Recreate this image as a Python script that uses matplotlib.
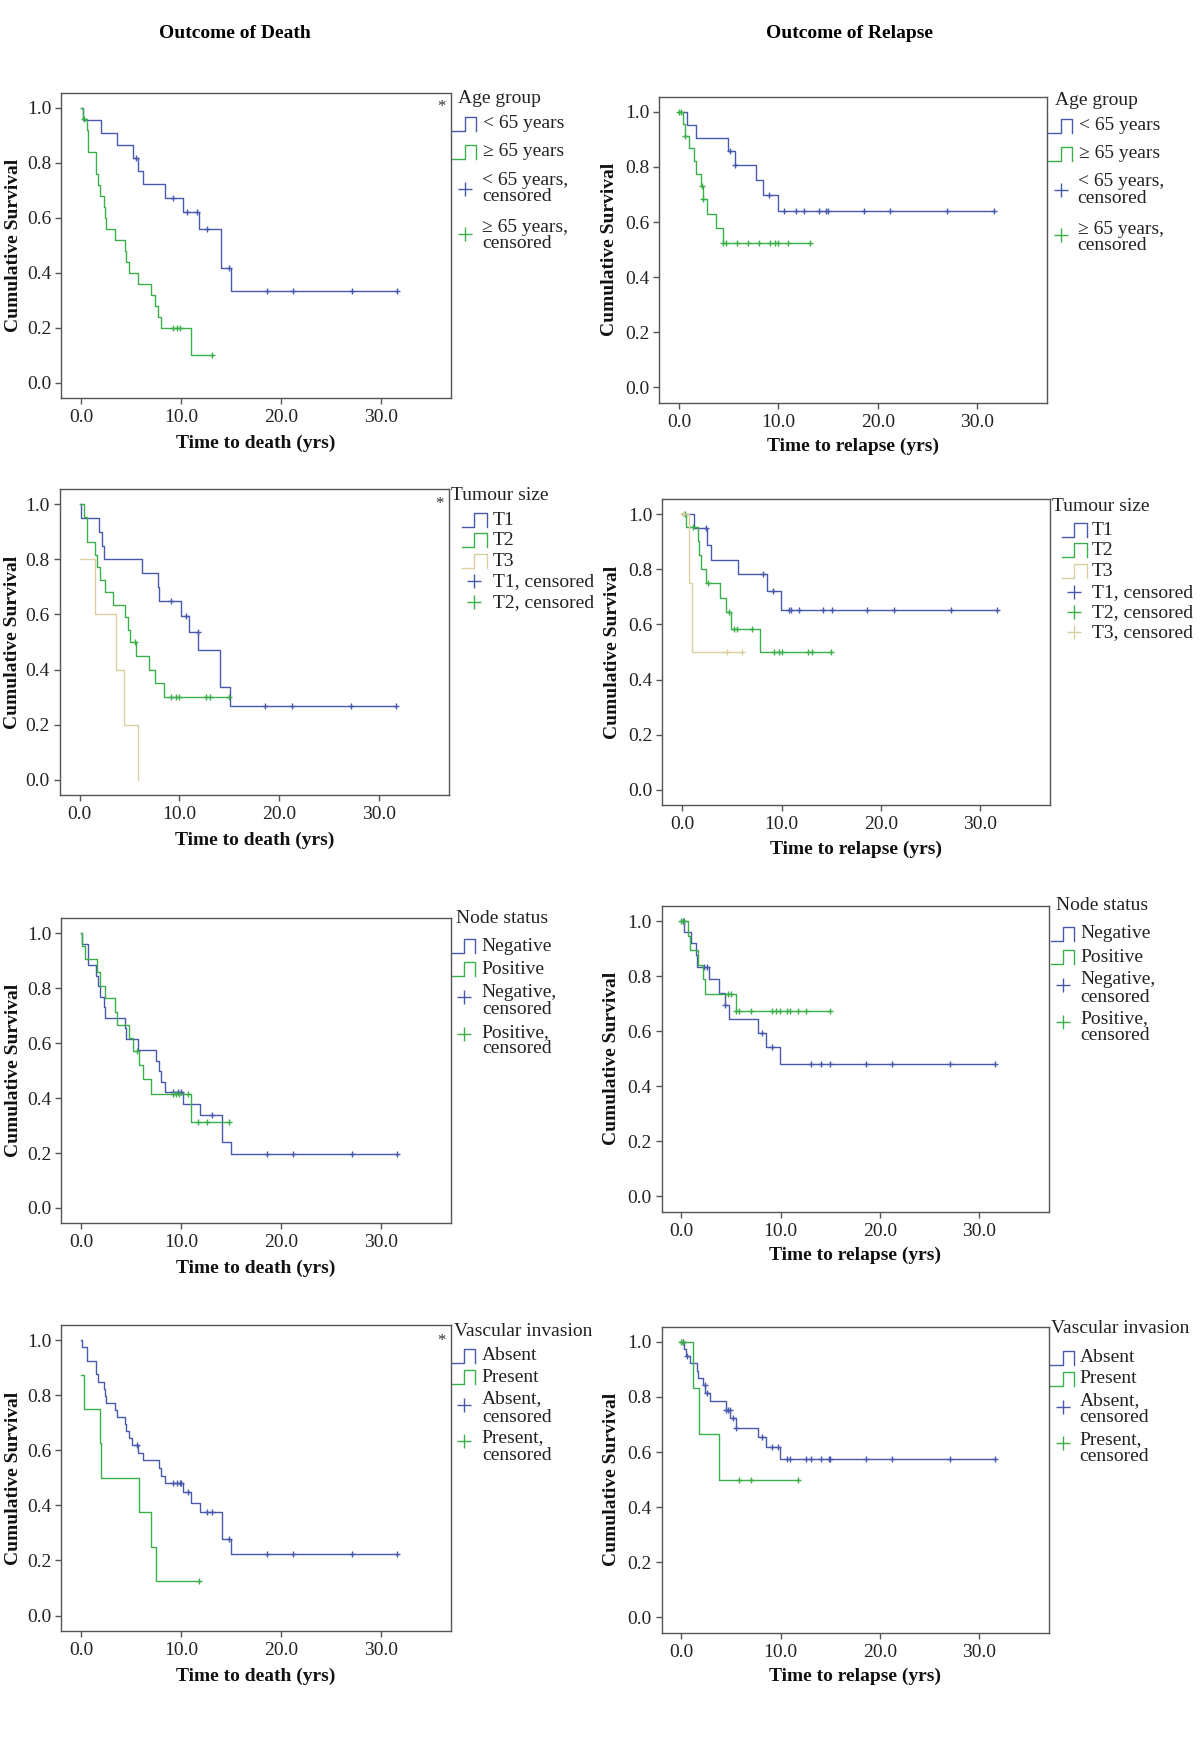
import numpy as np
import matplotlib
matplotlib.use('Agg')
import matplotlib.pyplot as plt

plt.rcParams['font.family'] = ['Liberation Serif', 'DejaVu Serif']

BLUE = '#4759ad'
GREEN = '#3daf4a'
TAN = '#d9cf9f'

# ---------------- data ----------------
col_titles = ["Outcome of Death", "Outcome of Relapse"]
x_labels = ["Time to death (yrs)", "Time to relapse (yrs)"]
x_ticks = [0, 10, 20, 30]
y_ticks = [0.0, 0.2, 0.4, 0.6, 0.8, 1.0]

# Panel 1: death, age group
d_age_lt65_t = [0.15, 2.0, 3.6, 5.15, 5.65, 6.15, 8.4, 10.2, 11.85, 14.05, 15.0]
d_age_lt65_s = [0.955, 0.909, 0.864, 0.818, 0.770, 0.721, 0.673, 0.620, 0.559, 0.418, 0.335]
d_age_lt65_c = [5.5, 9.15, 10.6, 11.65, 12.6, 14.8, 18.6, 21.2, 27.1, 31.65]
d_age_ge65_t = [0.15, 0.6, 0.65, 1.5, 1.73, 1.88, 2.27, 2.38, 2.54, 3.35, 4.38, 4.5, 4.77,
                5.73, 7.0, 7.38, 7.69, 7.96, 11.0]
d_age_ge65_s = [0.96, 0.92, 0.84, 0.76, 0.72, 0.68, 0.64, 0.60, 0.56, 0.52, 0.48, 0.44, 0.40,
                0.36, 0.32, 0.28, 0.24, 0.20, 0.10]
d_age_ge65_c = [0.25, 9.15, 9.6, 9.9, 13.15]

# Panel 2: relapse, age group
r_age_lt65_t = [0.8, 1.7, 4.9, 5.6, 7.75, 8.5, 9.95]
r_age_lt65_s = [0.953, 0.905, 0.858, 0.807, 0.754, 0.698, 0.641]
r_age_lt65_c = [5.1, 5.6, 9.1, 10.6, 11.75, 12.55, 14.1, 14.8, 14.95, 18.6, 21.2, 27.0, 31.65]
r_age_ge65_t = [0.45, 0.6, 1.05, 1.5, 1.7, 2.2, 2.4, 2.8, 3.7, 4.45]
r_age_ge65_s = [0.956, 0.912, 0.867, 0.820, 0.776, 0.730, 0.685, 0.628, 0.578, 0.525]
r_age_ge65_c = [0.0, 0.25, 0.65, 2.3, 2.45, 4.45, 4.75, 5.8, 6.95, 8.05, 9.2, 9.7, 10.0, 11.0, 13.15]

# Panel 3: death, tumour size
d_t1_t = [0.1, 1.9, 2.25, 2.4, 6.3, 7.85, 8.0, 10.2, 11.0, 11.9, 14.1, 15.1]
d_t1_s = [0.95, 0.90, 0.85, 0.80, 0.75, 0.70, 0.65, 0.595, 0.536, 0.47, 0.337, 0.268]
d_t1_c = [9.2, 10.7, 11.85, 18.6, 21.3, 27.2, 31.7]
d_t2_t = [0.4, 0.7, 1.55, 1.75, 2.0, 2.55, 3.3, 4.55, 4.85, 5.1, 5.7, 7.0, 7.55, 8.5]
d_t2_s = [0.955, 0.864, 0.818, 0.773, 0.727, 0.682, 0.636, 0.591, 0.545, 0.50, 0.45, 0.40, 0.35, 0.30]
d_t2_c = [5.6, 9.2, 9.65, 9.95, 12.65, 13.1, 15.0]
d_t3_start = 0.8
d_t3_t = [1.55, 3.65, 4.45, 5.9]
d_t3_s = [0.60, 0.40, 0.20, 0.0]
d_t3_c = []

# Panel 4: relapse, tumour size
r_t1_t = [1.15, 2.45, 2.95, 5.6, 8.5, 9.95]
r_t1_s = [0.95, 0.89, 0.836, 0.782, 0.72, 0.654]
r_t1_c = [2.4, 8.15, 9.15, 10.75, 11.0, 11.8, 14.15, 15.05, 18.6, 21.3, 27.1, 31.65]
r_t2_t = [0.4, 1.6, 1.7, 1.85, 2.35, 3.8, 4.45, 4.95, 7.8]
r_t2_s = [0.955, 0.905, 0.853, 0.801, 0.752, 0.698, 0.647, 0.585, 0.50]
r_t2_c = [0.25, 1.1, 2.55, 4.7, 5.2, 5.55, 7.0, 9.2, 9.75, 10.0, 12.65, 13.1, 14.95]
r_t3_t = [0.65, 1.0]
r_t3_s = [0.75, 0.50]
r_t3_c = [0.1, 4.5, 6.0]

# Panel 5: death, node status
d_neg_t = [0.1, 0.65, 1.5, 1.7, 1.9, 2.25, 2.4, 4.4, 4.5, 5.65, 7.45, 7.75, 8.0, 8.35, 10.2,
           11.85, 14.05, 15.0]
d_neg_s = [0.962, 0.885, 0.846, 0.807, 0.768, 0.731, 0.692, 0.654, 0.615, 0.576, 0.537, 0.498,
           0.459, 0.422, 0.379, 0.338, 0.241, 0.195]
d_neg_c = [9.2, 9.7, 9.95, 13.05, 18.6, 21.2, 27.1, 31.65]
d_pos_t = [0.05, 0.35, 1.6, 1.9, 2.4, 3.35, 3.6, 4.8, 5.2, 5.75, 6.2, 7.0, 10.95]
d_pos_s = [0.955, 0.905, 0.859, 0.81, 0.764, 0.714, 0.665, 0.618, 0.571, 0.522, 0.468, 0.416, 0.312]
d_pos_c = [5.6, 9.2, 9.5, 9.75, 10.65, 11.7, 12.6, 14.8]

# Panel 6: relapse, node status
r_neg_t = [0.3, 0.95, 1.5, 1.6, 2.75, 3.8, 4.4, 4.85, 7.75, 8.55, 9.95]
r_neg_s = [0.96, 0.919, 0.877, 0.835, 0.789, 0.739, 0.695, 0.646, 0.595, 0.543, 0.481]
r_neg_c = [0.2, 2.3, 2.55, 4.4, 8.1, 9.1, 13.1, 14.1, 15.0, 18.6, 21.25, 27.1, 31.6]
r_pos_t = [0.7, 0.9, 1.7, 2.2, 2.4, 5.55]
r_pos_s = [0.945, 0.895, 0.84, 0.789, 0.736, 0.675]
r_pos_c = [0.0, 0.25, 4.75, 5.05, 5.55, 5.8, 7.0, 9.15, 9.55, 9.9, 10.6, 10.9, 11.8, 12.55, 15.0]

# Panel 7: death, vascular invasion
d_abs_t = [0.1, 0.6, 1.5, 1.7, 2.25, 2.4, 2.5, 3.35, 3.6, 4.4, 4.5, 4.75, 5.1, 5.65, 6.2, 7.75,
           8.0, 8.35, 10.2, 10.95, 11.85, 14.05, 15.0]
d_abs_s = [0.976, 0.925, 0.876, 0.849, 0.824, 0.797, 0.773, 0.747, 0.722, 0.696, 0.670, 0.645,
           0.62, 0.589, 0.564, 0.537, 0.508, 0.482, 0.449, 0.41, 0.375, 0.279, 0.224]
d_abs_c = [5.6, 9.2, 9.6, 9.85, 10.0, 10.65, 12.6, 13.05, 14.8, 18.6, 21.2, 27.1, 31.65]
d_pres_start = 0.875
d_pres_t = [0.25, 1.9, 2.0, 5.75, 7.0, 7.45]
d_pres_s = [0.75, 0.625, 0.50, 0.375, 0.25, 0.125]
d_pres_c = [11.75]

# Panel 8: relapse, vascular invasion
r_abs_t = [0.3, 0.5, 0.9, 1.55, 1.7, 2.2, 2.4, 2.85, 4.45, 4.95, 5.55, 7.75, 8.55, 9.95]
r_abs_s = [0.975, 0.949, 0.922, 0.895, 0.867, 0.842, 0.813, 0.784, 0.754, 0.725, 0.689, 0.656,
           0.619, 0.575]
r_abs_c = [0.15, 0.6, 2.35, 2.6, 4.45, 4.75, 4.9, 5.25, 5.55, 8.1, 9.1, 9.7, 10.6, 10.9, 12.55,
           13.1, 14.1, 14.9, 15.0, 18.6, 21.25, 27.1, 31.6]
r_pres_t = [1.15, 1.75, 3.75]
r_pres_s = [0.833, 0.667, 0.50]
r_pres_c = [0.0, 0.2, 5.8, 7.0, 11.8]

# ---------------- drawing ----------------
FW, FH = 1200, 1754
FS = 14
fig = plt.figure(figsize=(FW / 100, FH / 100), dpi=100)


def km(ax, t, s, c, color, start=1.0):
    t = np.asarray(t, float)
    s = np.asarray(s, float)
    c = np.asarray(c, float)
    xs = np.concatenate([[0.0], t])
    ys = np.concatenate([[start], s])
    end = max(xs[-1], c.max() if c.size else 0.0)
    if end > xs[-1]:
        xs = np.append(xs, end)
        ys = np.append(ys, ys[-1])
    ax.step(xs, ys, where='post', color=color, lw=1.0)
    if c.size:
        idx = np.searchsorted(xs, c, side='right') - 1
        ax.plot(c, ys[idx], ls='none', marker='+', ms=5, mew=1.0, color=color)


def make_ax(px_left, px_top, px_right, px_bottom, xlabel, xl_off, yl_off):
    rect = [px_left / FW, 1 - px_bottom / FH, (px_right - px_left) / FW, (px_bottom - px_top) / FH]
    ax = fig.add_axes(rect)
    W = px_right - px_left
    H = px_bottom - px_top
    ax.set_xlim(-2.0, 37.0)
    ax.set_ylim(-0.056, 1.055)
    ax.set_xticks(x_ticks)
    ax.set_xticklabels([f"{v:.1f}" for v in x_ticks])
    ax.set_yticks(y_ticks)
    ax.set_yticklabels([f"{v:.1f}" for v in y_ticks])
    for sp in ax.spines.values():
        sp.set_color('#555555')
        sp.set_linewidth(1.0)
    ax.tick_params(direction='out', length=4, width=1, color='#555555',
                   labelsize=FS, labelcolor='#222222')
    ax.tick_params(axis='y', pad=3)
    ax.tick_params(axis='x', pad=4)
    ax.set_xlabel(xlabel, fontsize=FS, fontweight='bold', color='#111111')
    ax.set_ylabel("Cumulative Survival", fontsize=FS, fontweight='bold', color='#111111')
    ax.xaxis.set_label_coords(0.5, -xl_off / H)
    ax.xaxis.label.set_va('center')
    ax.yaxis.set_label_coords(-yl_off / W, 0.5)
    ax.yaxis.label.set_va('center')
    ax.yaxis.label.set_ha('center')
    return ax, W, H


def legend(ax, W, H, title, title_off, entries, icon_x, text_x, cens, star=None):
    def P(dx, dy):
        return (1 + dx / W, 1 - dy / H)
    kw = dict(transform=ax.transAxes, clip_on=False)
    tx, ty = P(*title_off)
    ax.text(tx, ty, title, fontsize=FS, color='#222222', ha='left', va='center', **kw)
    x0, xm, x1 = icon_x
    for lab, colr, dy in entries:
        xs = [x0, xm, xm, x1, x1]
        ys = [dy + 7, dy + 7, dy - 7, dy - 7, dy + 7]
        pts = [P(a, b) for a, b in zip(xs, ys)]
        ax.plot([p[0] for p in pts], [p[1] for p in pts], color=colr, lw=1.0, **kw)
        lx, ly = P(text_x, dy)
        ax.text(lx, ly, lab, fontsize=FS, color='#222222', ha='left', va='center', **kw)
    for lines, colr, px, pdy, ldys, ltx in cens:
        mx, my = P(px, pdy)
        ax.plot([mx], [my], marker='+', ms=10, mew=1.0, color=colr, ls='none', **kw)
        for ln, ldy in zip(lines, ldys):
            lx, ly = P(ltx, ldy)
            ax.text(lx, ly, ln, fontsize=FS, color='#222222', ha='left', va='center', **kw)
    if star is not None:
        sx, sy = P(*star)
        ax.text(sx, sy, '*', fontsize=12, color='#333333', ha='center', va='center', **kw)


# column titles
fig.text(235 / FW, 1 - 34 / FH, col_titles[0], fontsize=FS, fontweight='bold', ha='center', va='center')
fig.text(850 / FW, 1 - 34 / FH, col_titles[1], fontsize=FS, fontweight='bold', ha='center', va='center')

# Panel 1
ax, W, H = make_ax(61.1, 92.7, 450.8, 398, x_labels[0], 45, 47.5)
km(ax, d_age_lt65_t, d_age_lt65_s, d_age_lt65_c, BLUE)
km(ax, d_age_ge65_t, d_age_ge65_s, d_age_ge65_c, GREEN)
legend(ax, W, H, "Age group", (7, 6),
       [("< 65 years", BLUE, 31), ("\u2265 65 years", GREEN, 59)], (1, 14, 25), 32,
       [(["< 65 years,", "censored"], BLUE, 14, 96, [88, 104], 31),
        (["\u2265 65 years,", "censored"], GREEN, 14, 141, [135, 151], 31)],
       star=(-9, 14))

# Panel 2
ax, W, H = make_ax(659.1, 96.7, 1046.7, 402.7, x_labels[1], 44, 49.5)
km(ax, r_age_lt65_t, r_age_lt65_s, r_age_lt65_c, BLUE)
km(ax, r_age_ge65_t, r_age_ge65_s, r_age_ge65_c, GREEN)
legend(ax, W, H, "Age group", (8, 4),
       [("< 65 years", BLUE, 29), ("\u2265 65 years", GREEN, 57)], (1, 14, 25), 32,
       [(["< 65 years,", "censored"], BLUE, 14, 93, [85, 102], 31),
        (["\u2265 65 years,", "censored"], GREEN, 14, 138, [133, 149], 31)])

# Panel 3
ax, W, H = make_ax(59.6, 489.3, 448.9, 795, x_labels[0], 45, 47.5)
km(ax, d_t1_t, d_t1_s, d_t1_c, BLUE)
km(ax, d_t2_t, d_t2_s, d_t2_c, GREEN)
km(ax, d_t3_t, d_t3_s, d_t3_c, TAN, start=d_t3_start)
legend(ax, W, H, "Tumour size", (2, 6),
       [("T1", BLUE, 31), ("T2", GREEN, 51), ("T3", TAN, 72)], (13, 25, 38), 44,
       [(["T1, censored"], BLUE, 25, 92, [92], 44),
        (["T2, censored"], GREEN, 25, 113, [113], 44)],
       star=(-10, 15))

# Panel 4
ax, W, H = make_ax(662.3, 499.3, 1049.8, 805, x_labels[1], 44, 49.5)
km(ax, r_t1_t, r_t1_s, r_t1_c, BLUE)
km(ax, r_t2_t, r_t2_s, r_t2_c, GREEN)
km(ax, r_t3_t, r_t3_s, r_t3_c, TAN)
legend(ax, W, H, "Tumour size", (2, 7),
       [("T1", BLUE, 31), ("T2", GREEN, 51), ("T3", TAN, 72)], (12, 24, 37), 42,
       [(["T1, censored"], BLUE, 24, 93, [93], 42),
        (["T2, censored"], GREEN, 24, 113, [113], 42),
        (["T3, censored"], TAN, 24, 133, [133], 42)])

# Panel 5
ax, W, H = make_ax(61.5, 918.3, 450.8, 1223.3, x_labels[0], 45, 47.5)
km(ax, d_neg_t, d_neg_s, d_neg_c, BLUE)
km(ax, d_pos_t, d_pos_s, d_pos_c, GREEN)
legend(ax, W, H, "Node status", (5, 0),
       [("Negative", BLUE, 28), ("Positive", GREEN, 51)], (1, 13, 24), 31,
       [(["Negative,", "censored"], BLUE, 13, 79, [74, 91], 31),
        (["Positive,", "censored"], GREEN, 13, 116, [114, 130], 31)])

# Panel 6
ax, W, H = make_ax(661.5, 906, 1048.6, 1211.7, x_labels[1], 44, 49.5)
km(ax, r_neg_t, r_neg_s, r_neg_c, BLUE)
km(ax, r_pos_t, r_pos_s, r_pos_c, GREEN)
legend(ax, W, H, "Node status", (7, 0),
       [("Negative", BLUE, 28), ("Positive", GREEN, 51)], (2, 14, 25), 32,
       [(["Negative,", "censored"], BLUE, 14, 79, [74, 91], 32),
        (["Positive,", "censored"], GREEN, 14, 116, [113, 130], 32)])

# Panel 7
ax, W, H = make_ax(61.5, 1325, 450.8, 1631, x_labels[0], 45, 47.5)
km(ax, d_abs_t, d_abs_s, d_abs_c, BLUE)
km(ax, d_pres_t, d_pres_s, d_pres_c, GREEN, start=d_pres_start)
legend(ax, W, H, "Vascular invasion", (3, 6),
       [("Absent", BLUE, 31), ("Present", GREEN, 52)], (1, 13, 24), 31,
       [(["Absent,", "censored"], BLUE, 13, 80, [74, 92], 31),
        (["Present,", "censored"], GREEN, 13, 116, [113, 130], 31)],
       star=(-9, 16))

# Panel 8
ax, W, H = make_ax(661.5, 1326.7, 1048.6, 1632.7, x_labels[1], 44, 49.5)
km(ax, r_abs_t, r_abs_s, r_abs_c, BLUE)
km(ax, r_pres_t, r_pres_s, r_pres_c, GREEN)
legend(ax, W, H, "Vascular invasion", (2, 2),
       [("Absent", BLUE, 31), ("Present", GREEN, 52)], (1, 14, 25), 31,
       [(["Absent,", "censored"], BLUE, 14, 80, [74, 91], 31),
        (["Present,", "censored"], GREEN, 14, 116, [113, 130], 31)])

fig.savefig('out.png', dpi=100, facecolor='white')
